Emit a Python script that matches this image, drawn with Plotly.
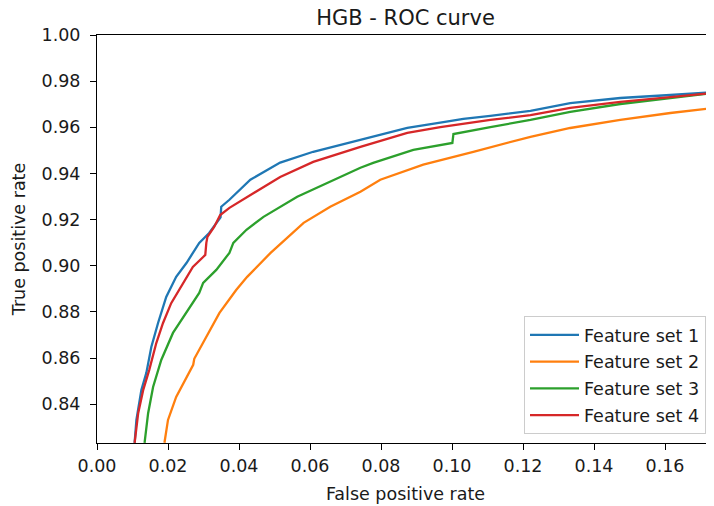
import plotly.graph_objects as go

# ---- data ----
names = ["Feature set 1", "Feature set 2", "Feature set 3", "Feature set 4"]
colors = ["#1f77b4", "#ff7f0e", "#2ca02c", "#d62728"]

fpr_1 = [0.0106, 0.0111, 0.0125, 0.0139, 0.0153, 0.0172, 0.0195, 0.0223, 0.0252, 0.0288,
         0.0316, 0.0342, 0.0348, 0.0350, 0.0373, 0.0432, 0.0516, 0.0609, 0.0742, 0.0874,
         0.0967, 0.1032, 0.1108, 0.1221, 0.1333, 0.1474, 0.1615, 0.1739]
tpr_1 = [0.8233, 0.8332, 0.8462, 0.8536, 0.8648, 0.8752, 0.8865, 0.8952, 0.9012, 0.9099,
         0.9142, 0.9199, 0.9210, 0.9256, 0.9286, 0.9373, 0.9447, 0.9494, 0.9546, 0.9598,
         0.9620, 0.9637, 0.9650, 0.9671, 0.9705, 0.9727, 0.9740, 0.9753]

fpr_2 = [0.0190, 0.0200, 0.0223, 0.0252, 0.0271, 0.0274, 0.0308, 0.0345, 0.0392, 0.0423,
         0.0489, 0.0582, 0.0657, 0.0742, 0.0798, 0.0919, 0.1060, 0.1221, 0.1333, 0.1474,
         0.1615, 0.1739]
tpr_2 = [0.8233, 0.8332, 0.8432, 0.8518, 0.8571, 0.8597, 0.8692, 0.8796, 0.8895, 0.8952,
         0.9056, 0.9186, 0.9256, 0.9321, 0.9373, 0.9438, 0.9494, 0.9559, 0.9597, 0.9632,
         0.9662, 0.9684]

fpr_3 = [0.0134, 0.0144, 0.0158, 0.0181, 0.0214, 0.0252, 0.0288, 0.0299, 0.0336, 0.0373,
         0.0384, 0.0421, 0.0469, 0.0564, 0.0657, 0.0742, 0.0778, 0.0891, 0.1001, 0.1004,
         0.1108, 0.1221, 0.1333, 0.1474, 0.1615, 0.1739]
tpr_3 = [0.8233, 0.8361, 0.8475, 0.8592, 0.8709, 0.8796, 0.8882, 0.8926, 0.8982, 0.9056,
         0.9099, 0.9156, 0.9212, 0.9299, 0.9364, 0.9425, 0.9446, 0.9502, 0.9532, 0.9571,
         0.9601, 0.9632, 0.9667, 0.9701, 0.9727, 0.9749]

fpr_4 = [0.0106, 0.0116, 0.0130, 0.0147, 0.0167, 0.0186, 0.0209, 0.0242, 0.0270, 0.0299,
         0.0305, 0.0308, 0.0311, 0.0330, 0.0347, 0.0373, 0.0423, 0.0516, 0.0609, 0.0742,
         0.0874, 0.0967, 0.1108, 0.1221, 0.1333, 0.1474, 0.1615, 0.1739]
tpr_4 = [0.8233, 0.8361, 0.8461, 0.8548, 0.8665, 0.8752, 0.8838, 0.8925, 0.8995, 0.9038,
         0.9047, 0.9099, 0.9125, 0.9168, 0.9220, 0.9251, 0.9298, 0.9385, 0.9450, 0.9515,
         0.9576, 0.9601, 0.9632, 0.9653, 0.9684, 0.9710, 0.9731, 0.9749]

x_ticks = [0.00, 0.02, 0.04, 0.06, 0.08, 0.10, 0.12, 0.14, 0.16]
y_ticks = [0.84, 0.86, 0.88, 0.90, 0.92, 0.94, 0.96, 0.98, 1.00]
x_range = [0.0, 0.1738]
y_range = [0.8232, 1.0]

series_x = [fpr_1, fpr_2, fpr_3, fpr_4]
series_y = [tpr_1, tpr_2, tpr_3, tpr_4]

FONT = "DejaVu Sans"
TXT = "#1a1a1a"

# page has an 8px body margin; figure is sized to fill the rest of the window
W, H = 706, 498
L, T, B = 89, 27, 63
PW, PH = W - L, H - T - B

fig = go.Figure()
for i in range(4):
    fig.add_trace(go.Scatter(
        x=series_x[i], y=series_y[i], mode="lines", name=names[i],
        legendgroup=names[i],
        line=dict(color=colors[i], width=2.3),
    ))

fig.update_layout(
    width=W, height=H,
    margin=dict(l=L, r=0, t=T, b=B, autoexpand=False),
    paper_bgcolor="white", plot_bgcolor="white",
    font=dict(family=FONT, size=17.5, color=TXT),
    title=dict(text="HGB - ROC curve", font=dict(size=21, color=TXT),
               x=0.5, xref="paper", xanchor="center",
               y=1 - 10 / H, yref="container", yanchor="middle"),
    showlegend=True,
    legend=dict(x=(516 - L) / PW, y=(435 - 308) / PH, xanchor="left", yanchor="top",
                bgcolor="rgba(255,255,255,0.8)", bordercolor="#cccccc", borderwidth=1,
                font=dict(size=17.5, color=TXT), tracegroupgap=1, itemwidth=49,
                entrywidth=186, entrywidthmode="pixels"),
)

fig.update_xaxes(
    range=x_range, tickvals=x_ticks, ticktext=[f"{v:.2f}" for v in x_ticks],
    showgrid=False, zeroline=False, showline=True, linecolor="black", linewidth=1,
    mirror=True, ticks="outside", ticklen=6, tickcolor="black", tickwidth=1,
    ticklabelstandoff=1, automargin=False,
    title=dict(text="False positive rate", standoff=12, font=dict(size=17.5, color=TXT)),
)
fig.update_yaxes(
    range=y_range, tickvals=y_ticks, ticktext=[f"{v:.2f}" for v in y_ticks],
    showgrid=False, zeroline=False, showline=True, linecolor="black", linewidth=1,
    mirror=False, ticks="outside", ticklen=6, tickcolor="black", tickwidth=1,
    ticklabelstandoff=6, automargin=False,
    title=dict(text="True positive rate", standoff=11, font=dict(size=17.5, color=TXT)),
)

fig.write_html("out.html")
